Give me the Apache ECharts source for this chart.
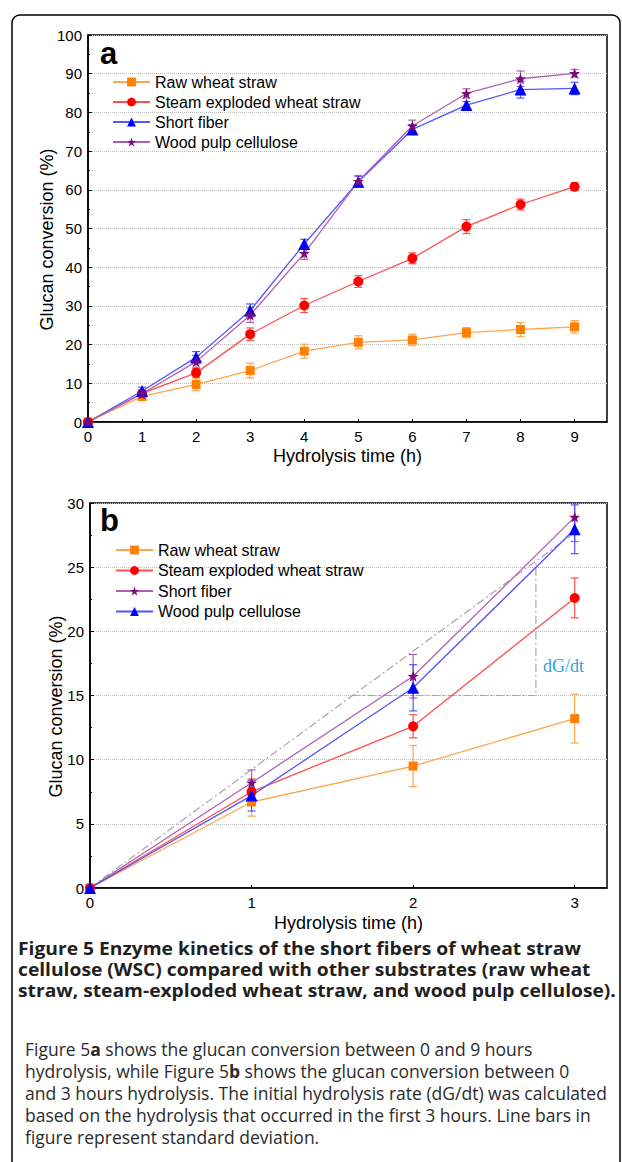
<!DOCTYPE html>
<html>
<head>
<meta charset="utf-8">
<script src="https://cdn.jsdelivr.net/npm/echarts@6/dist/echarts.min.js"></script>
<style>
  html, body { margin: 0; padding: 0; background: #fff; }
  #main { width: 622px; height: 1162px; }
</style>
</head>
<body>
<div id="main"></div>
<script>
// panel a: 0 - 9 h
var hoursA = [0, 1, 2, 3, 4, 5, 6, 7, 8, 9];
var rawA = [0, 6.6, 9.7, 13.3, 18.3, 20.6, 21.2, 23.1, 23.9, 24.6];
var rawErrA = [0, 0.9, 1.6, 1.9, 1.8, 1.7, 1.5, 1.3, 1.8, 1.6];
var steamA = [0, 7.4, 12.7, 22.7, 30.1, 36.3, 42.3, 50.5, 56.2, 60.8];
var steamErrA = [0, 0.8, 1.1, 1.6, 1.8, 1.5, 1.4, 1.8, 1.4, 1.0];
var shortA = [0, 8.0, 16.7, 28.8, 46.0, 62.1, 75.6, 81.9, 85.9, 86.2];
var shortErrA = [0, 1.0, 1.5, 1.7, 1.2, 1.4, 1.2, 0.9, 2.2, 1.6];
var woodA = [0, 7.3, 15.6, 27.6, 43.6, 62.2, 76.5, 84.9, 88.7, 90.1];
var woodErrA = [0, 0.9, 1.6, 1.9, 1.6, 1.5, 1.5, 1.2, 2.0, 1.0];

// panel b: 0 - 3 h
var hoursB = [0, 1, 2, 3];
var rawB = [0, 6.7, 9.5, 13.2];
var rawErrB = [0, 1.1, 1.6, 1.9];
var steamB = [0, 7.5, 12.6, 22.6];
var steamErrB = [0, 1.0, 0.9, 1.55];
var shortB = [0, 8.2, 16.5, 28.9];
var shortErrB = [0, 1.0, 1.7, 1.9];
var woodB = [0, 7.2, 15.6, 27.95];
var woodErrB = [0, 1.2, 1.8, 1.9];

// dG/dt construction lines in panel b
var slopeLine = [[0, 0], [2.98, 27.5]];
var slopeStep = [[1.62, 15], [2.76, 15], [2.76, 25.5]];

var names = ['Raw wheat straw', 'Steam exploded wheat straw', 'Short fiber', 'Wood pulp cellulose'];

var captionTitle = [
  'Figure 5 Enzyme kinetics of the short fibers of wheat straw',
  'cellulose (WSC) compared with other substrates (raw wheat',
  'straw, steam-exploded wheat straw, and wood pulp cellulose).'
];
var captionBody = [
  'Figure 5{b|a} shows the glucan conversion between 0 and 9 hours',
  'hydrolysis, while Figure 5{b|b} shows the glucan conversion between 0',
  'and 3 hours hydrolysis. The initial hydrolysis rate (dG/dt) was calculated',
  'based on the hydrolysis that occurred in the first 3 hours. Line bars in',
  'figure represent standard deviation.'
];

var font = 'Liberation Sans';
var orange = { mark: '#ff7f00', line: '#ffa54f' };
var red = { mark: '#ff0000', line: '#ff4f4f' };
var blue = { mark: '#0000ff', line: '#5555ff' };
var purple = { mark: '#7a0a7a', line: '#b060b0' };
var star = 'path://M0,-10L2.35,-3.24L9.51,-3.09L3.8,1.24L5.88,8.09L0,4L-5.88,8.09L-3.8,1.24L-9.51,-3.09L-2.35,-3.24Z';

function pairs(xs, ys) {
  return xs.map(function (x, i) { return [x, ys[i]]; });
}

function lineSeries(name, xs, ys, col, symbol, size, idx) {
  return {
    name: name, type: 'line', xAxisIndex: idx, yAxisIndex: idx,
    data: pairs(xs, ys), symbol: symbol, symbolSize: size,
    showAllSymbol: true, z: 4,
    itemStyle: { color: col.mark },
    lineStyle: { color: col.line, width: 1.3 }
  };
}

function errSeries(name, xs, ys, errs, col, idx) {
  var d = [];
  xs.forEach(function (x, i) {
    if (errs[i] > 0) d.push([x, ys[i] - errs[i], ys[i] + errs[i]]);
  });
  return {
    name: name, type: 'custom', xAxisIndex: idx, yAxisIndex: idx,
    data: d, clip: true, silent: true, z: 3,
    renderItem: function (params, api) {
      var lo = api.coord([api.value(0), api.value(1)]);
      var hi = api.coord([api.value(0), api.value(2)]);
      var w = 4;
      var st = { stroke: col.line, lineWidth: 1.2 };
      return {
        type: 'group', children: [
          { type: 'line', shape: { x1: lo[0], y1: lo[1], x2: hi[0], y2: hi[1] }, style: st },
          { type: 'line', shape: { x1: lo[0] - w, y1: lo[1], x2: lo[0] + w, y2: lo[1] }, style: st },
          { type: 'line', shape: { x1: hi[0] - w, y1: hi[1], x2: hi[0] + w, y2: hi[1] }, style: st }
        ]
      };
    }
  };
}

function xAxis(idx, max, gap) {
  return {
    type: 'value', gridIndex: idx, min: 0, max: max, interval: 1,
    name: 'Hydrolysis time (h)', nameLocation: 'middle', nameGap: gap, nameMoveOverlap: false,
    nameTextStyle: { fontSize: 18, fontFamily: font, color: '#000' },
    axisLine: { lineStyle: { color: '#000', width: 1.5 } },
    axisTick: { inside: true, length: 3, lineStyle: { color: '#000' } },
    axisLabel: { fontSize: 15, fontFamily: font, color: '#000', margin: 7, showMaxLabel: false },
    splitLine: { show: false }
  };
}

function yAxis(idx, max, step, gap) {
  return {
    type: 'value', gridIndex: idx, min: 0, max: max, interval: step,
    name: 'Glucan conversion (%)', nameLocation: 'middle', nameGap: gap, nameMoveOverlap: false,
    nameTextStyle: { fontSize: 18, fontFamily: font, color: '#000', padding: [0, 22, 0, 0] },
    axisLine: { lineStyle: { color: '#000', width: 1.5 } },
    axisTick: { inside: true, length: 4, lineStyle: { color: '#000' } },
    minorTick: { show: true, splitNumber: 2, length: 2, lineStyle: { color: '#000' } },
    axisLabel: { fontSize: 15, fontFamily: font, color: '#000', margin: 6 },
    splitLine: { show: true, lineStyle: { color: '#bdbdbd', type: 'dotted', width: 1 } }
  };
}

var bNames = names.map(function (n) { return 'b-' + n; });

var series = [
  lineSeries(names[0], hoursA, rawA, orange, 'rect', 9, 0),
  lineSeries(names[1], hoursA, steamA, red, 'circle', 10, 0),
  lineSeries(names[2], hoursA, shortA, blue, 'triangle', 12, 0),
  lineSeries(names[3], hoursA, woodA, purple, star, 11, 0),
  errSeries(names[0], hoursA, rawA, rawErrA, orange, 0),
  errSeries(names[1], hoursA, steamA, steamErrA, red, 0),
  errSeries(names[2], hoursA, shortA, shortErrA, blue, 0),
  errSeries(names[3], hoursA, woodA, woodErrA, purple, 0),

  {
    type: 'line', xAxisIndex: 1, yAxisIndex: 1, data: slopeLine, symbol: 'none', silent: true, z: 2,
    lineStyle: { color: '#a6a6a6', width: 1.2, type: [8, 3, 2, 3] }
  },
  {
    type: 'line', xAxisIndex: 1, yAxisIndex: 1, data: slopeStep, symbol: 'none', silent: true, z: 2,
    lineStyle: { color: '#a6a6a6', width: 1.2, type: [8, 3, 2, 3] }
  },
  lineSeries(bNames[0], hoursB, rawB, orange, 'rect', 9, 1),
  lineSeries(bNames[1], hoursB, steamB, red, 'circle', 10, 1),
  lineSeries(bNames[2], hoursB, shortB, purple, star, 11, 1),
  lineSeries(bNames[3], hoursB, woodB, blue, 'triangle', 12, 1),
  errSeries(bNames[0], hoursB, rawB, rawErrB, orange, 1),
  errSeries(bNames[1], hoursB, steamB, steamErrB, red, 1),
  errSeries(bNames[2], hoursB, shortB, shortErrB, purple, 1),
  errSeries(bNames[3], hoursB, woodB, woodErrB, blue, 1)
];

var legendText = { fontSize: 16, fontFamily: font, color: '#000' };

var option = {
  animation: false,
  backgroundColor: '#fff',
  grid: [
    { left: 88, top: 35, width: 519, height: 387, show: true, borderColor: '#000', borderWidth: 1.5, containLabel: false },
    { left: 90, top: 503, width: 517, height: 385, show: true, borderColor: '#000', borderWidth: 1.5, containLabel: false }
  ],
  xAxis: [xAxis(0, 9.6, 25), xAxis(1, 3.2, 26)],
  yAxis: [yAxis(0, 100, 10, 32), yAxis(1, 30, 5, 25)],
  legend: [
    {
      data: names, orient: 'vertical', left: 112, top: 74, padding: 0,
      itemWidth: 37, itemHeight: 11, itemGap: 4,
      textStyle: legendText, selectedMode: false
    },
    {
      data: bNames, orient: 'vertical', left: 115, top: 542, padding: 0,
      itemWidth: 37, itemHeight: 11, itemGap: 4.5,
      textStyle: legendText, selectedMode: false,
      formatter: function (n) { return n.replace(/^b-/, ''); }
    }
  ],
  graphic: [
    {
      type: 'rect', silent: true, z: -1,
      shape: { x: 12, y: 15, width: 608, height: 1200, r: 8 },
      style: { fill: 'none', stroke: '#000', lineWidth: 1.5 }
    },
    { type: 'text', left: 100, top: 38, silent: true, style: { text: 'a', font: 'bold 31px "Liberation Sans"', fill: '#000' } },
    { type: 'text', left: 100, top: 505, silent: true, style: { text: 'b', font: 'bold 31px "Liberation Sans"', fill: '#000' } },
    { type: 'text', left: 543, top: 657, silent: true, style: { text: 'dG/dt', font: '18px "Liberation Serif"', fill: '#27a6df' } },
    {
      type: 'text', x: 18, y: 937, scaleX: 1.1, silent: true,
      style: {
        text: captionTitle.join('\n'), fontFamily: 'Open Sans', fontSize: 17.5, fontWeight: 'bold',
        lineHeight: 21.2, fill: '#231f20', verticalAlign: 'top'
      }
    },
    {
      type: 'text', x: 25, y: 1038, silent: true,
      style: {
        text: captionBody.join('\n'), fontFamily: 'Open Sans', fontSize: 17.5,
        lineHeight: 22, fill: '#2b2b2b', verticalAlign: 'top',
        rich: { b: { fontFamily: 'Open Sans', fontSize: 17.5, fontWeight: 'bold', lineHeight: 22, fill: '#2b2b2b' } }
      }
    }
  ],
  series: series
};

var chart = echarts.init(document.getElementById('main'), null, { renderer: 'svg' });
chart.setOption(option);
</script>
</body>
</html>
